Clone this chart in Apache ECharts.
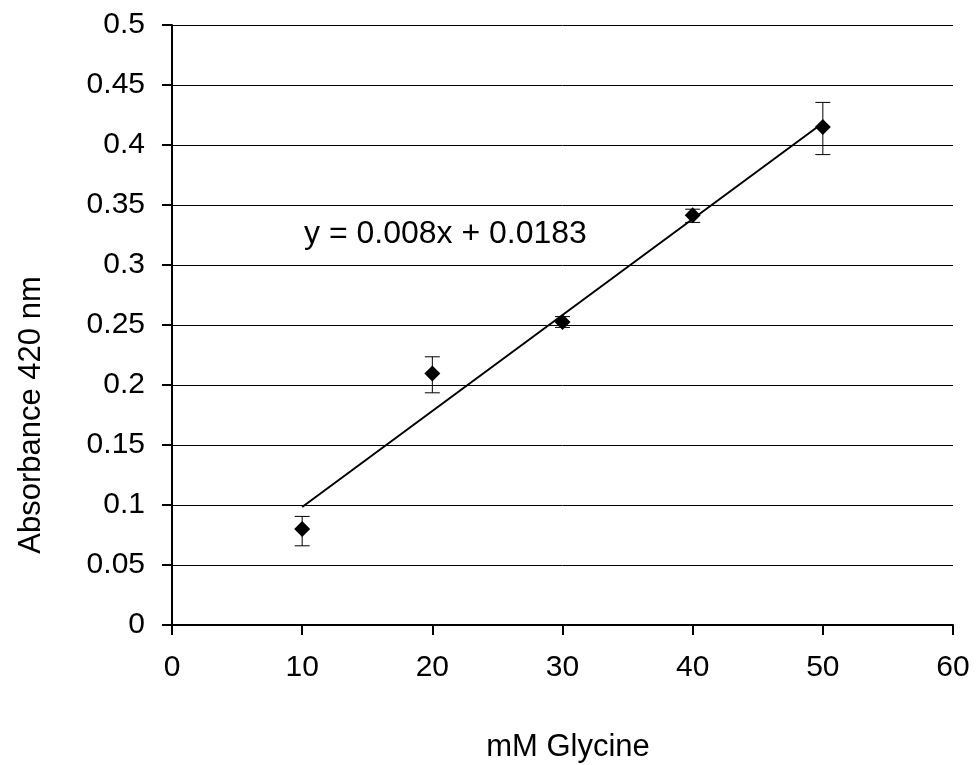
<!DOCTYPE html>
<html><head><meta charset="utf-8">
<script src="https://cdn.jsdelivr.net/npm/echarts@6/dist/echarts.min.js"></script>
<style>html,body{margin:0;padding:0;background:#fff}#c{width:976px;height:765px}</style>
</head><body><div id="c"></div>
<script>
const glycine = [10, 20, 30, 40, 50];
const absorbance = [0.080, 0.2095, 0.2525, 0.3415, 0.4150];
const errLow = [0.0660, 0.1935, 0.2480, 0.3355, 0.3920];
const errHigh = [0.0905, 0.2235, 0.2570, 0.3465, 0.4355];
const slope = 0.008, intercept = 0.0183;
const trendX = [10, 50];
const equationText = 'y = 0.008x + 0.0183';
const xTitle = 'mM Glycine';
const yTitle = 'Absorbance 420 nm';

const font = 'Liberation Sans, Arial, sans-serif';
const FS = 30;
const chart = echarts.init(document.getElementById('c'), null, {renderer: 'canvas'});
const points = glycine.map((x, i) => [x, absorbance[i]]);
const errData = glycine.map((x, i) => [x, errLow[i], errHigh[i]]);
const trend = trendX.map(x => [x, slope * x + intercept]);

chart.setOption({
  animation: false,
  backgroundColor: '#fff',
  grid: {left: 172, right: 23, top: 25, bottom: 140, containLabel: false},
  xAxis: {
    type: 'value', min: 0, max: 60, interval: 10,
    axisLine: {show: true, onZero: false, lineStyle: {color: '#000', width: 2}},
    axisTick: {show: true, inside: false, length: 10, lineStyle: {color: '#000', width: 2}},
    axisLabel: {fontFamily: font, fontSize: FS, color: '#000', margin: 28,
      formatter: v => String(v)},
    splitLine: {show: false}
  },
  yAxis: {
    type: 'value', min: 0, max: 0.5, interval: 0.05,
    axisLine: {show: true, lineStyle: {color: '#000', width: 2}},
    axisTick: {show: true, inside: false, length: 10, lineStyle: {color: '#000', width: 2}},
    axisLabel: {fontFamily: font, fontSize: FS, color: '#000', margin: 27,
      formatter: v => String(parseFloat(v.toFixed(2)))},
    splitLine: {show: true, lineStyle: {color: '#000', width: 1}}
  },
  series: [
    {
      type: 'line', data: trend, symbol: 'none', silent: true,
      lineStyle: {color: '#000', width: 2}, z: 3
    },
    {
      type: 'custom', data: errData, z: 4,
      renderItem: (params, api) => {
        const x = api.value(0);
        const lo = api.coord([x, api.value(1)]);
        const hi = api.coord([x, api.value(2)]);
        const w = 7.5;
        const st = {stroke: '#000', lineWidth: 1};
        return {type: 'group', children: [
          {type: 'line', shape: {x1: lo[0], y1: lo[1], x2: hi[0], y2: hi[1]}, style: st},
          {type: 'line', shape: {x1: lo[0]-w, y1: lo[1], x2: lo[0]+w, y2: lo[1]}, style: st},
          {type: 'line', shape: {x1: hi[0]-w, y1: hi[1], x2: hi[0]+w, y2: hi[1]}, style: st}
        ]};
      }
    },
    {
      type: 'scatter', data: points, symbol: 'diamond', symbolSize: [16, 16], z: 5,
      itemStyle: {color: '#000', opacity: 1}
    }
  ],
  graphic: [
    {type: 'text', x: 304, y: 234,
      style: {text: equationText, fontFamily: font, fontSize: 32, fill: '#000', textVerticalAlign: 'middle'}},
    {type: 'text', x: 568, y: 747,
      style: {text: xTitle, fontFamily: font, fontSize: 31, fill: '#000', textAlign: 'center', textVerticalAlign: 'middle'}},
    {type: 'text', x: 31, y: 415, rotation: Math.PI / 2,
      style: {text: yTitle, fontFamily: font, fontSize: 31, fill: '#000', textAlign: 'center', textVerticalAlign: 'middle'}}
  ]
});
</script></body></html>
